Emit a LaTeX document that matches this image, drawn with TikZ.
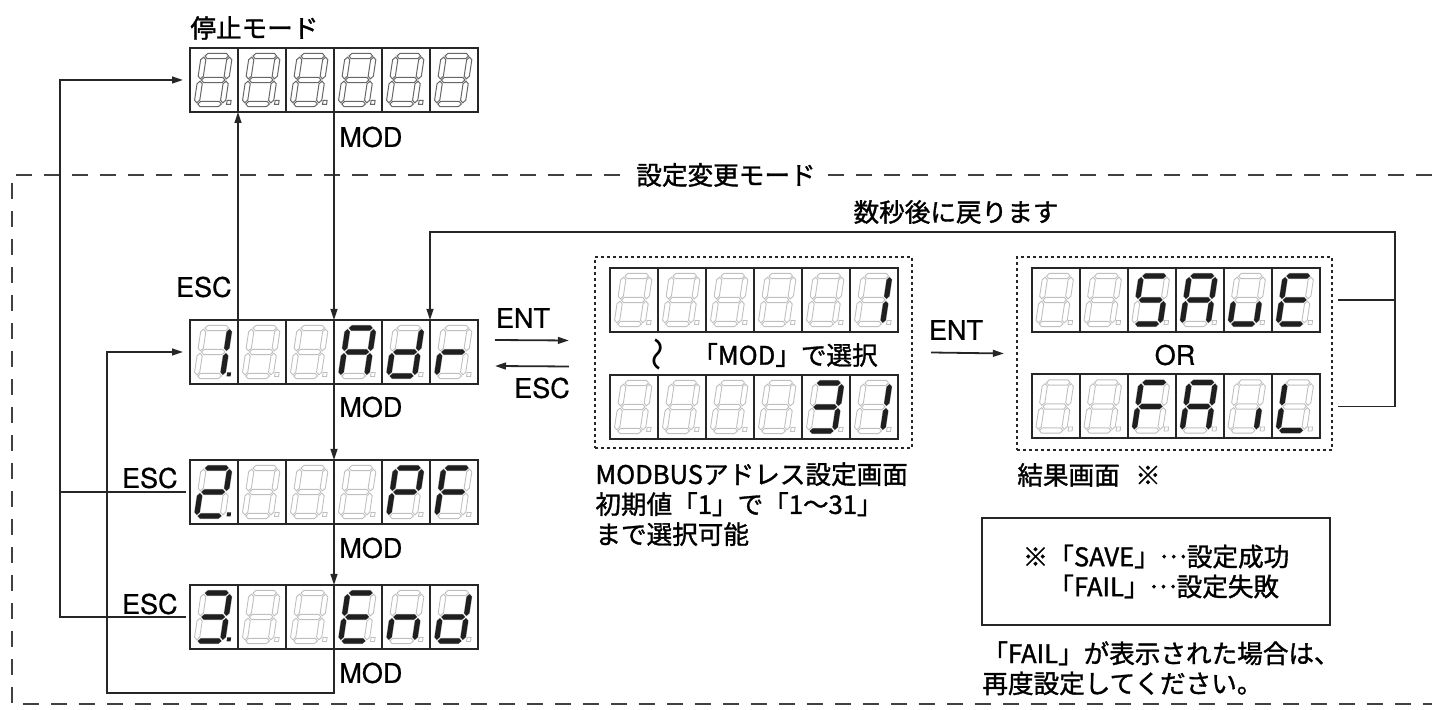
\documentclass[tikz,border=0pt]{standalone}
\usepackage{fontspec}
\setmainfont{TeX Gyre Heros}[BoldFont={TeX Gyre Heros}, BoldFeatures={FakeBold=0.7}]
\newfontfamily\jp{Noto Sans CJK JP}[BoldFont={Noto Sans CJK JP}, BoldFeatures={FakeBold=1.3}]
\usetikzlibrary{arrows.meta,positioning,calc}

% segment outlines inside one cell (48 x 64)
\newcommand{\hseg}[1]{(16.2,#1) -- ++(2.6,-2.6) -- ++(18.4,0) -- ++(2.6,2.6) -- ++(-2.6,2.6) -- ++(-18.4,0) -- cycle}
\newcommand{\vseg}[2]{(#1,#2) -- ++(2.6,2.6) -- ++(0,16.4) -- ++(-2.6,2.6) -- ++(-2.6,-2.6) -- ++(0,-16.4) -- cycle}
\def\sega{\hseg{8}}
\def\segb{\vseg{41}{9.2}}
\def\segc{\vseg{41}{33.2}}
\def\segd{\hseg{56}}
\def\sege{\vseg{15}{33.2}}
\def\segf{\vseg{15}{9.2}}
\def\segg{\hseg{32}}
\def\segn{}
\newcommand{\midots}{\raisebox{0.32em}{…}}

% six digit panel: [unlit style]{name}{centre}{segments/dot, ...}
\newcommand{\segdisplay}[4][off]{%
  \node[disp] (#2) at (#3) {};
  \foreach \segs/\dpt [count=\ci from 0] in {#4} {
    \begin{scope}[shift={($(#2.north west)+(48*\ci,0)$)}]
      \draw[cell] (0,0) rectangle (48,64);
      \begin{scope}[xslant=0.15]
        \foreach \segl in {a,b,c,d,e,f,g} {\draw[#1] \csname seg\segl\endcsname;}
        \foreach \segl in \segs {\fill[on] \csname seg\segl\endcsname;}
        \ifnum\dpt=1 \fill[on] (45,52.5) rectangle ++(4,4);
        \else\ifnum\dpt=0 \draw[#1] (45,52.5) rectangle ++(4,4);\fi\fi
      \end{scope}
    \end{scope}
  }
}

\begin{document}
\begin{tikzpicture}[
  x=0.5pt, y=-0.5pt,
  font=\fontsize{13.5}{16}\selectfont,
  >={Triangle[length=5.5pt,width=3.4pt]},
  disp/.style={minimum width=144pt, minimum height=32pt, inner sep=0pt, outer sep=0pt},
  cell/.style={draw=black!85, line width=1pt},
  off/.style={draw=black!25, line width=0.45pt},
  dim/.style={draw=black!60, line width=0.5pt},
  on/.style={fill=black!88},
  wire/.style={draw=black!85, line width=0.9pt},
  arr/.style={wire, ->},
  frame/.style={draw=black!75, line width=1.4pt, dash pattern=on 8pt off 6pt},
  dotbox/.style={draw=black!85, line width=1.1pt, dash pattern=on 1.3pt off 1.7pt, inner sep=0pt},
  lbl/.style={font=\fontsize{13.5}{16}\selectfont\bfseries, inner sep=1pt},
  jp/.style={font=\fontsize{12.8}{15}\selectfont\jp\bfseries}
]
  \useasboundingbox (0,0) rectangle (1432,710);

  % setting mode frame
  \draw[frame] (1432,175) -- (12,175) -- (12,704) -- (1432,704);
  \node[jp, fill=white, inner sep=6pt] (mode) at (726,175) {設定変更モード};

  % panels
  \node[jp, anchor=west, inner sep=0pt] (stoplbl) at (190,28) {停止モード};
  \segdisplay[dim]{stop}{334,80}{n/0, n/0, n/0, n/0, n/0, n/2}
  \segdisplay{adr}{334,352}{{b,c}/1, n/0, n/0, {a,b,c,e,f,g}/0, {b,c,d,e,g}/0, {e,g}/0}
  \segdisplay{pf}{334,492}{{a,b,d,e,g}/1, n/0, n/0, n/0, {a,b,e,f,g}/0, {a,e,f,g}/0}
  \segdisplay{fin}{334,617}{{a,b,c,d,g}/1, n/0, n/0, {a,d,e,f,g}/0, {c,e,g}/0, {b,c,d,e,g}/0}

  \node[dotbox, minimum width=158.5pt, minimum height=95.5pt] (sel) at (753.5,352.5) {};
  \segdisplay{one}{754,300}{n/0, n/0, n/0, n/0, n/0, {b,c}/0}
  \segdisplay{thirty}{754,407}{n/0, n/0, n/0, n/0, {a,b,c,d,g}/0, {b,c}/0}
  \node[jp, rotate=90, font=\fontsize{17}{17}\selectfont\jp] (wave) at (662,355) {〜};
  \node[jp] (pick) at (785,355) {「MOD」で選択};
  \node[jp, anchor=north west, align=left, inner sep=0pt] (seltxt) at (595,462)
    {MODBUSアドレス設定画面\\初期値「1」で「1〜31」\\まで選択可能};

  \node[dotbox, minimum width=157.5pt, minimum height=96.5pt] (res) at (1174.5,353.5) {};
  \segdisplay{save}{1175.5,300}{n/0, n/0, {a,c,d,f,g}/0, {a,b,c,e,f,g}/0, {c,d,e}/0, {a,d,e,f,g}/0}
  \segdisplay{fail}{1175.5,406.5}{n/0, n/0, {a,e,f,g}/0, {a,b,c,e,f,g}/0, {c}/0, {d,e,f}/0}
  \node[lbl] (or) at (1175,355) {OR};
  \node[jp, anchor=west, inner sep=0pt] (restxt) at (1017,475) {結果画面\hspace{0.6em}※};

  \node[jp, draw=black!85, line width=1pt, minimum width=174pt, minimum height=53.5pt, align=left] (note) at (1156,571.5)
    {※「SAVE」\midots 設定成功\\\phantom{※}「FAIL」\midots 設定失敗};
  \node[jp, anchor=north west, align=left, inner sep=0pt] (hint) at (982,641)
    {「FAIL」が表示された場合は、\\再度設定してください。};

  % key labels
  \node[lbl, anchor=west] (mod0) at (337,137) {MOD};
  \node[lbl, anchor=west] (mod1) at (337,407) {MOD};
  \node[lbl, anchor=west] (mod2) at (337,548) {MOD};
  \node[lbl, anchor=west] (mod3) at (337,673) {MOD};
  \node[lbl, anchor=east] (esc0) at (234,287) {ESC};
  \node[lbl, anchor=east] (esc1) at (180,478) {ESC};
  \node[lbl, anchor=east] (esc2) at (180,604) {ESC};
  \node[lbl] (ent) at (523,318) {ENT};
  \node[lbl] (escb) at (542,388) {ESC};
  \node[lbl] (ent2) at (956,330) {ENT};
  \node[jp] (ret) at (956,212) {数秒後に戻ります};

  \coordinate (lft) at (60,80);
  \coordinate (inr) at (107,693);
  \coordinate (back) at (1395,232);

  % connectors
  \draw[arr] (stop) -- (adr);
  \draw[arr] (adr) -- (pf);
  \draw[arr] (pf) -- (fin);
  \draw[arr] (fin.south) |- (inr) |- ($(adr.west)+(-7,0)$);
  \draw[arr] ($(adr.north west)+(48,0)$) -- ($(stop.south west)+(48,0)$);
  \draw[arr] ($(fin.west)+(-4,0)$) -| (lft) -- ($(stop.west)+(-7,0)$);
  \draw[wire] ($(pf.west)+(-4,0)$) -- (pf.west -| lft);
  \draw[arr] ($(adr.east)+(17,-12)$) -- ($(sel.west)+(-25,-12)$);
  \draw[arr] ($(sel.west)+(-25,14)$) -- ($(adr.east)+(17,14)$);
  \draw[arr] ($(sel.east)+(18,0)$) -- ($(res.west)+(-12,0)$);
  \draw[wire] ($(res.east |- save)+(5,0)$) -| (back);
  \draw[arr] ($(res.east |- fail)+(5,0)$) -| (back) -| ($(adr.north east)+(-48,0)$);
\end{tikzpicture}
\end{document}
